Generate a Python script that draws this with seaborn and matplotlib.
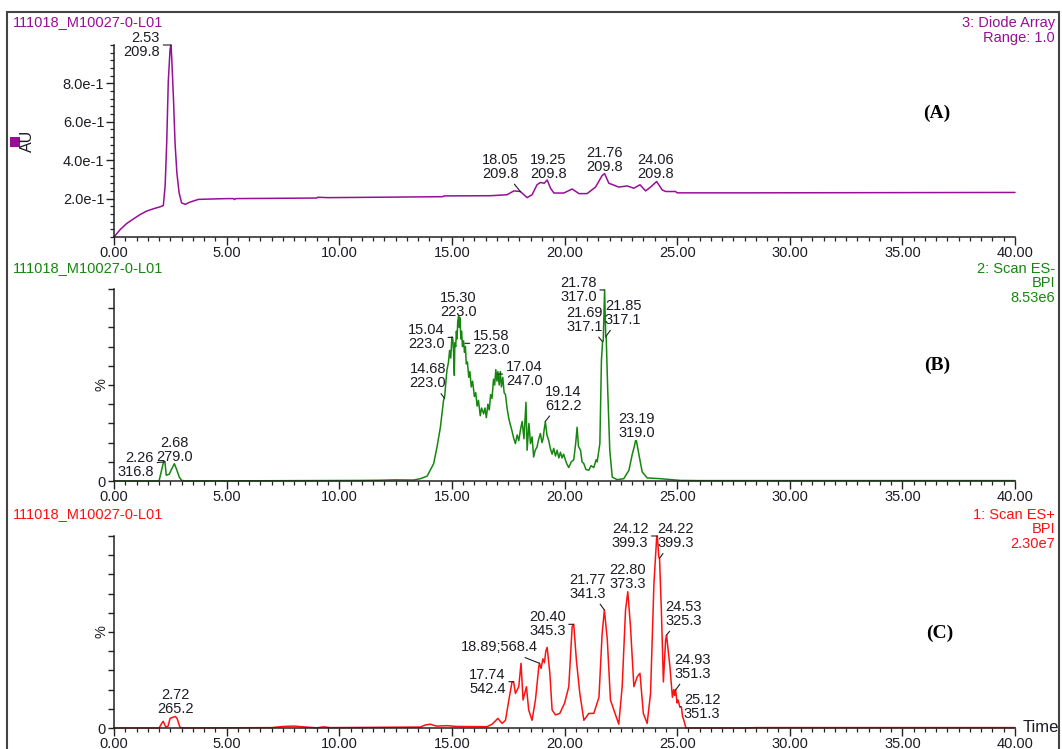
import pandas as pd
import matplotlib.pyplot as plt
import matplotlib.ticker as mticker
from matplotlib.patches import Rectangle
import seaborn as sns

# (retention time min, response)
trace_a = [(0, 0), (0.27, 0.038), (0.56, 0.07), (0.86, 0.094), (1.16, 0.117), (1.45, 0.135),
           (1.75, 0.147), (2.04, 0.157), (2.19, 0.164), (2.27, 0.266), (2.34, 0.49), (2.41, 0.81),
           (2.49, 0.98), (2.53, 1.0), (2.56, 0.94), (2.64, 0.72), (2.71, 0.49), (2.79, 0.336),
           (2.89, 0.23), (3.0, 0.178), (3.16, 0.17), (3.38, 0.182), (3.75, 0.196), (5.0, 0.2),
           (5.3, 0.2), (5.35, 0.195), (5.4, 0.2), (9.0, 0.203), (9.05, 0.207), (9.5, 0.205),
           (12.7, 0.208), (14.6, 0.21), (14.65, 0.214), (16.71, 0.215), (17.45, 0.22), (17.75, 0.24),
           (18.04, 0.237), (18.34, 0.205), (18.56, 0.22), (18.78, 0.272), (18.93, 0.284), (19.1, 0.28),
           (19.23, 0.297), (19.38, 0.254), (19.53, 0.229), (19.97, 0.229), (20.34, 0.25), (20.64, 0.226),
           (21.0, 0.226), (21.38, 0.26), (21.67, 0.32), (21.78, 0.33), (21.97, 0.28), (22.41, 0.26),
           (22.78, 0.266), (23.08, 0.254), (23.35, 0.272), (23.6, 0.24), (23.82, 0.26), (24.09, 0.289),
           (24.34, 0.245), (24.49, 0.237), (24.93, 0.237), (25.0, 0.23), (28.26, 0.23), (40.0, 0.232)]

trace_b = [(0, 0), (2.0, 0), (2.1, 5), (2.2, 10), (2.26, 10), (2.32, 3), (2.45, 3.5), (2.55, 6),
           (2.68, 9), (2.78, 6), (2.9, 2), (3.0, 0.3), (3.2, 0), (11.0, 0.3), (11.82, 0.4), (12.5, 0.6),
           (13.3, 0.5), (13.6, 1.2), (13.9, 2.5), (14.04, 5.6), (14.19, 9), (14.34, 17.7), (14.49, 28),
           (14.63, 42), (14.68, 44), (14.78, 57.7), (14.85, 62), (14.9, 68), (14.95, 64), (15.0, 75),
           (15.04, 74), (15.08, 66), (15.11, 55), (15.13, 72), (15.17, 70), (15.2, 78), (15.23, 74),
           (15.26, 83), (15.30, 86), (15.33, 80), (15.36, 85), (15.4, 74), (15.43, 78), (15.47, 70),
           (15.52, 73), (15.56, 67), (15.6, 70), (15.64, 61), (15.69, 62), (15.75, 54), (15.8, 57),
           (15.86, 49), (15.92, 52), (16.0, 44), (16.06, 46), (16.12, 39), (16.18, 42), (16.26, 34),
           (16.32, 38), (16.41, 35), (16.47, 38), (16.53, 33), (16.6, 40), (16.66, 37), (16.72, 45),
           (16.78, 43), (16.85, 53), (16.9, 50), (16.95, 58), (17.0, 52), (17.04, 57), (17.1, 50),
           (17.15, 57), (17.2, 49), (17.26, 54), (17.32, 46), (17.38, 45), (17.45, 38), (17.52, 33),
           (17.58, 30), (17.67, 26), (17.75, 22), (17.82, 19.5), (17.9, 24), (17.97, 21), (18.05, 27),
           (18.12, 31), (18.2, 22), (18.29, 41), (18.34, 16), (18.42, 30), (18.49, 19.5), (18.56, 23),
           (18.63, 12.5), (18.7, 16), (18.78, 17.7), (18.86, 22), (18.93, 24.7), (19.0, 20), (19.05, 22),
           (19.1, 27), (19.15, 30.8), (19.22, 24), (19.3, 21), (19.37, 17), (19.45, 14), (19.52, 17),
           (19.6, 13), (19.67, 16), (19.75, 12), (19.82, 15), (19.89, 12), (19.96, 14), (20.04, 11),
           (20.1, 9), (20.19, 7), (20.3, 10), (20.41, 11), (20.5, 20), (20.56, 28), (20.62, 18),
           (20.71, 16), (20.78, 10), (20.86, 9), (20.95, 6), (21.08, 5.6), (21.18, 8), (21.3, 7),
           (21.4, 11), (21.45, 10), (21.57, 19.5), (21.64, 63), (21.69, 72.5), (21.72, 73),
           (21.78, 99.5), (21.83, 75), (21.85, 75.5), (21.92, 47), (22.01, 16), (22.12, 2), (22.34, 0.7),
           (22.63, 1.2), (22.86, 5.6), (23.01, 14), (23.1, 18), (23.15, 20.9), (23.19, 21), (23.25, 17),
           (23.30, 14), (23.45, 4.7), (23.67, 1.6), (24.26, 1.2), (25.15, 0.3), (26.0, 0.2), (40.0, 0.2)]

trace_c = [(0, 0), (2.0, 0), (2.1, 2), (2.18, 3.5), (2.3, 0.5), (2.4, 1), (2.49, 5), (2.6, 5.5),
           (2.72, 6), (2.8, 5), (2.93, 0.3), (3.1, 0), (7.0, 0.2), (7.5, 0.8), (8.0, 1), (8.5, 0.5),
           (9.0, 0.1), (9.3, 0.6), (9.6, 0.2), (13.6, 0.5), (13.8, 1.5), (14.04, 2), (14.3, 1),
           (14.8, 1.2), (15.2, 0.8), (16.56, 0.7), (16.79, 2), (17.04, 5), (17.23, 2.4), (17.38, 4),
           (17.53, 14.6), (17.67, 24), (17.74, 24.1), (17.82, 18), (17.97, 21.5), (18.07, 33.7),
           (18.16, 14.6), (18.31, 21.5), (18.41, 9.4), (18.56, 4), (18.71, 14.6), (18.86, 32),
           (18.89, 33.7), (18.96, 31), (19.04, 36), (19.11, 34), (19.17, 40), (19.23, 42), (19.35, 28.5),
           (19.45, 9.4), (19.60, 6.8), (19.79, 7.6), (20.0, 12.8), (20.19, 21.5), (20.34, 52.8),
           (20.41, 54), (20.53, 35), (20.68, 18), (20.86, 4), (21.08, 7.6), (21.30, 7.6), (21.53, 16),
           (21.67, 49), (21.77, 61.5), (21.90, 46), (22.04, 14.6), (22.19, 9.4), (22.41, 2),
           (22.56, 21.5), (22.71, 61.5), (22.81, 71), (22.93, 52.8), (23.08, 21.5), (23.23, 26.7),
           (23.35, 28.5), (23.50, 7.6), (23.67, 2.4), (23.82, 18), (23.97, 75), (24.09, 99),
           (24.12, 100), (24.19, 89), (24.22, 88), (24.30, 61.5), (24.39, 24), (24.49, 46),
           (24.53, 48.4), (24.68, 32), (24.79, 16), (24.85, 20), (24.89, 17), (24.93, 20), (25.0, 13),
           (25.04, 14.6), (25.12, 11), (25.19, 11), (25.24, 6), (25.30, 4), (25.39, 0), (28.0, 0),
           (28.5, 0.2), (40.0, 0.2)]

# peak labels: (time, response, text)
peaks_a = [(2.53, 1.0, "2.53\n209.8"), (18.05, 0.235, "18.05\n209.8"), (19.25, 0.29, "19.25\n209.8"),
           (21.76, 0.33, "21.76\n209.8"), (24.06, 0.29, "24.06\n209.8")]
peaks_b = [(2.26, 10, "2.26\n316.8"), (2.68, 9, "2.68\n279.0"), (14.68, 43, "14.68\n223.0"),
           (15.04, 74.8, "15.04\n223.0"), (15.30, 84.7, "15.30\n223.0"), (15.58, 71.7, "15.58\n223.0"),
           (17.04, 55.7, "17.04\n247.0"), (19.14, 30.9, "19.14\n612.2"), (21.78, 99.5, "21.78\n317.0"),
           (21.69, 72.5, "21.69\n317.1"), (21.85, 75.5, "21.85\n317.1"), (23.19, 21, "23.19\n319.0")]
peaks_c = [(2.72, 6, "2.72\n265.2"), (17.74, 24.1, "17.74\n542.4"), (18.89, 33.7, "18.89;568.4"),
           (20.40, 54, "20.40\n345.3"), (21.77, 61.5, "21.77\n341.3"), (22.80, 71, "22.80\n373.3"),
           (24.12, 100, "24.12\n399.3"), (24.22, 88.4, "24.22\n399.3"), (24.53, 48.4, "24.53\n325.3"),
           (24.93, 19.8, "24.93\n351.3"), (25.12, 11, "25.12\n351.3")]

# label placement (offset px, alignment, leader line)
place_a = [(-11, 0, "right", True), (-20, 25, "center", True), (1, 14, "center", False),
           (0, 14, "center", False), (0, 14, "center", False)]
place_b = [(-11, -3, "right", True), (0, 14, "center", False), (-17, 22, "center", True),
           (-8, 0, "right", True), (0, 13, "center", False), (8, 0, "left", True),
           (8, 0, "left", True), (18, 23, "center", True), (-8, 0, "right", True),
           (-18, 22, "center", True), (17, 23, "center", True), (0, 15, "center", False)]
place_c = [(0, 14, "center", False), (-8, 0, "right", True), (-2, 16, "right", True),
           (-8, 0, "right", True), (-17, 23, "center", True), (0, 15, "center", False),
           (-9, 0, "right", True), (16, 22, "center", True), (17, 21, "center", True),
           (17, 23, "center", True), (4, 0, "left", True)]

sns.set_style("ticks")
plt.rcParams["font.family"] = ["Liberation Sans", "DejaVu Sans"]

W, H = 1062, 749
PURPLE, GREEN, RED = "#960f96", "#16860f", "#ff1010"
INK = "#1c1c24"

fig = plt.figure(figsize=(W / 100, H / 100), dpi=100)


def fx(px):
    return px / W


def fy(py):
    return 1 - py / H


def draw_panel(bottom_px, trace, color, peaks, place, ymax):
    ax = fig.add_axes([fx(114), fy(bottom_px), 901 / W, 192 / H])
    df = pd.DataFrame(trace, columns=["time", "resp"])
    sns.lineplot(data=df, x="time", y="resp", ax=ax, color=color, lw=1.1,
                 estimator=None, sort=False)
    for ln in ax.lines:
        ln.set_clip_on(False)
    ax.set_xlim(0, 40)
    ax.set_ylim(0, ymax)
    ax.set_xlabel("")
    ax.set_ylabel("")
    sns.despine(ax=ax)
    for sp in ax.spines.values():
        sp.set_color("#222")
        sp.set_linewidth(1.1)
    ax.xaxis.set_major_locator(mticker.MultipleLocator(5))
    ax.xaxis.set_minor_locator(mticker.MultipleLocator(0.5))
    ax.xaxis.set_major_formatter(mticker.FormatStrFormatter("%.2f"))
    ax.tick_params(axis="both", which="major", length=5.5, width=1, color="#222",
                   labelsize=10.5, labelcolor=INK, pad=1.5)
    ax.tick_params(axis="x", which="major", pad=0.8)
    ax.tick_params(axis="both", which="minor", length=3, width=0.9, color="#222")
    for (t, y, s), (dx, dy, ha, line) in zip(peaks, place):
        ax.annotate(s, xy=(t, y), xytext=(dx, dy), textcoords="offset pixels",
                    ha=ha, va="center", fontsize=10.5, color=INK, linespacing=1.0,
                    arrowprops=dict(arrowstyle="-", color=INK, lw=0.8, shrinkA=0, shrinkB=0)
                    if line else None)
    return ax


ax_a = draw_panel(237, trace_a, PURPLE, peaks_a, place_a, 1.0)
ax_a.set_yticks([0.2, 0.4, 0.6, 0.8])
ax_a.set_yticklabels(["2.0e-1", "4.0e-1", "6.0e-1", "8.0e-1"])
ax_a.yaxis.set_minor_locator(mticker.MultipleLocator(0.04))

ax_b = draw_panel(481, trace_b, GREEN, peaks_b, place_b, 100)
ax_c = draw_panel(728, trace_c, RED, peaks_c, place_c, 100)
for ax in (ax_b, ax_c):
    ax.set_yticks(range(0, 101, 10))
    ax.set_yticklabels(["0"] + [""] * 10)
    ax.yaxis.set_minor_locator(mticker.NullLocator())
    ax.tick_params(axis="y", which="major", length=4.5)
    ax.text(-0.0144, 0.5, "%", transform=ax.transAxes, rotation=90, ha="center",
            va="center", fontsize=10.5, color=INK)

ax_c.text(1.009, 0.0, "Time", transform=ax_c.transAxes, ha="left", va="center",
          fontsize=12, color=INK)

# headers
for py, s, col in [(22, "111018_M10027-0-L01", PURPLE), (268, "111018_M10027-0-L01", GREEN),
                   (514, "111018_M10027-0-L01", RED)]:
    fig.text(fx(13), fy(py), s, ha="left", va="center", fontsize=10.5, color=col)
for py, s, col in [(23, "3: Diode Array", PURPLE), (38, "Range: 1.0", PURPLE),
                   (269, "2: Scan ES-", GREEN), (283, "BPI", GREEN), (298, "8.53e6", GREEN),
                   (515, "1: Scan ES+", RED), (529, "BPI", RED), (544, "2.30e7", RED)]:
    fig.text(fx(1055), fy(py), s, ha="right", va="center", fontsize=10.5, color=col)

for px, py, s in [(937, 113, "(A)"), (937, 365, "(B)"), (940, 633, "(C)")]:
    fig.text(fx(px), fy(py), s, ha="center", va="center", fontsize=14,
             fontweight="bold", family="Liberation Serif", color="black")

# AU label with marker square
fig.text(fx(27), fy(141), "AU", rotation=90, ha="center", va="center", fontsize=11.5, color=INK)
fig.add_artist(Rectangle((fx(10), fy(147)), 10 / W, 10 / H, transform=fig.transFigure,
                         facecolor=PURPLE, edgecolor="none"))

# outer frame
fig.add_artist(Rectangle((fx(7), -0.05), (1059 - 7) / W, fy(12) + 0.05, transform=fig.transFigure,
                         fill=False, edgecolor="#444", lw=1.5))

fig.savefig("out.png", dpi=100)
